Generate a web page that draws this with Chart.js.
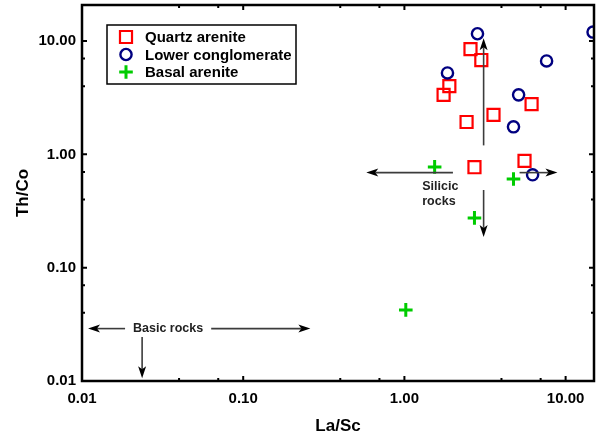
<!DOCTYPE html>
<html>
<head>
<meta charset="utf-8">
<script src="https://cdn.jsdelivr.net/npm/chart.js@4.4.1/dist/chart.umd.min.js"></script>
<style>
  body { margin: 0; background: #fff; }
  canvas { display: block; }
</style>
</head>
<body>
<canvas id="chart" width="602" height="438"></canvas>
<script>
// La/Sc against Th/Co, both on log axes
const quartzLaSc = [2.57, 3.0, 1.9, 1.75, 2.43, 3.57, 6.15, 2.72, 5.56];
const quartzThCo = [8.5, 6.8, 4.0, 3.35, 1.93, 2.23, 2.78, 0.77, 0.875];

const conglLaSc = [2.84, 1.85, 7.62, 5.11, 4.75, 6.24, 14.8];
const conglThCo = [11.6, 5.23, 6.67, 3.35, 1.75, 0.66, 12.0];

const basalLaSc = [1.54, 4.75, 2.72, 1.02];
const basalThCo = [0.775, 0.607, 0.275, 0.0424];

const majorTicks = [0.01, 0.1, 1, 10];
const minorTicks = [0.04, 0.07, 0.4, 0.7, 4, 7];

// field arrows: [fromX, fromY, toX, toY]
const arrows = [
  [2.0, 0.69, 0.58, 0.69],
  [5.18, 0.69, 8.9, 0.69],
  [3.1, 1.2, 3.1, 10.6],
  [3.1, 0.485, 3.1, 0.187],
  [0.0185, 0.029, 0.0109, 0.029],
  [0.0633, 0.029, 0.261, 0.029],
  [0.0236, 0.0244, 0.0236, 0.0106]
];
const fieldLabels = [
  { text: 'Silicic', x: 1.29, y: 0.515, align: 'left' },
  { text: 'rocks', x: 1.29, y: 0.38, align: 'left' },
  { text: 'Basic rocks', x: 0.0342, y: 0.029, align: 'center' }
];

const FONT = '"Liberation Sans", Arial, Helvetica, sans-serif';

function pairs(xs, ys) {
  return xs.map((v, i) => ({ x: v, y: ys[i] }));
}

function drawMarker(ctx, style, color, width, r, x, y) {
  ctx.save();
  ctx.strokeStyle = color;
  ctx.lineWidth = width;
  ctx.beginPath();
  if (style === 'rect') {
    const s = r * Math.SQRT1_2;
    ctx.rect(x - s, y - s, 2 * s, 2 * s);
  } else if (style === 'circle') {
    ctx.arc(x, y, r, 0, Math.PI * 2);
  } else {
    ctx.moveTo(x - r, y); ctx.lineTo(x + r, y);
    ctx.moveTo(x, y - r); ctx.lineTo(x, y + r);
  }
  ctx.stroke();
  ctx.restore();
}

function arrowHead(ctx, x1, y1, x2, y2) {
  const ang = Math.atan2(y2 - y1, x2 - x1);
  ctx.save();
  ctx.translate(x2, y2);
  ctx.rotate(ang);
  ctx.beginPath();
  ctx.moveTo(0, 0);
  ctx.lineTo(-12, -4);
  ctx.lineTo(-9, 0);
  ctx.lineTo(-12, 4);
  ctx.closePath();
  ctx.fill();
  ctx.restore();
}

const annotations = {
  id: 'annotations',
  afterDatasetsDraw(chart) {
    const { ctx, scales: { x, y } } = chart;
    ctx.save();
    ctx.strokeStyle = '#3c3c3c';
    ctx.fillStyle = '#000';
    ctx.lineWidth = 1.6;
    arrows.forEach(a => {
      const x1 = x.getPixelForValue(a[0]), y1 = y.getPixelForValue(a[1]);
      const x2 = x.getPixelForValue(a[2]), y2 = y.getPixelForValue(a[3]);
      const ang = Math.atan2(y2 - y1, x2 - x1);
      ctx.beginPath();
      ctx.moveTo(x1, y1);
      ctx.lineTo(x2 - 9 * Math.cos(ang), y2 - 9 * Math.sin(ang));
      ctx.stroke();
      arrowHead(ctx, x1, y1, x2, y2);
    });
    ctx.fillStyle = '#222';
    ctx.font = 'bold 12.5px ' + FONT;
    ctx.textBaseline = 'middle';
    fieldLabels.forEach(l => {
      ctx.textAlign = l.align;
      ctx.fillText(l.text, x.getPixelForValue(l.x), y.getPixelForValue(l.y));
    });
    ctx.restore();
  }
};

const frame = {
  id: 'frame',
  afterDatasetsDraw(chart) {
    const { ctx, chartArea: a, scales: { x, y } } = chart;
    ctx.save();
    ctx.strokeStyle = '#000';
    ctx.lineWidth = 2;
    const tick = (vx, vy, len) => {
      ctx.beginPath();
      if (vx !== null) {
        const px = x.getPixelForValue(vx);
        ctx.moveTo(px, a.bottom); ctx.lineTo(px, a.bottom - len);
        ctx.moveTo(px, a.top); ctx.lineTo(px, a.top + len);
      } else {
        const py = y.getPixelForValue(vy);
        ctx.moveTo(a.left, py); ctx.lineTo(a.left + len, py);
        ctx.moveTo(a.right, py); ctx.lineTo(a.right - len, py);
      }
      ctx.stroke();
    };
    majorTicks.forEach(v => { tick(v, null, 5); tick(null, v, 5); });
    minorTicks.forEach(v => { tick(v, null, 3); tick(null, v, 3); });
    ctx.lineWidth = 2.5;
    ctx.strokeRect(a.left, a.top, a.right - a.left, a.bottom - a.top);

    // legend box
    const lx = a.left + 25, ly = a.top + 20;
    ctx.fillStyle = '#fff';
    ctx.fillRect(lx, ly, 189, 59);
    ctx.lineWidth = 1.5;
    ctx.strokeRect(lx, ly, 189, 59);
    ctx.font = 'bold 15px ' + FONT;
    ctx.fillStyle = '#000';
    ctx.textBaseline = 'middle';
    ctx.textAlign = 'left';
    chart.data.datasets.forEach((ds, i) => {
      const ry = ly + 12 + i * 17.5;
      drawMarker(ctx, ds.pointStyle, ds.borderColor, ds.borderWidth, ds.pointRadius, lx + 19, ry);
      ctx.fillText(ds.label, lx + 38, ry + 1);
    });
    ctx.restore();
  }
};

new Chart(document.getElementById('chart'), {
  type: 'scatter',
  data: {
    datasets: [
      {
        label: 'Quartz arenite',
        data: pairs(quartzLaSc, quartzThCo),
        pointStyle: 'rect',
        pointRadius: 8.5,
        borderWidth: 2.2,
        borderColor: '#ff0000',
        backgroundColor: 'rgba(0,0,0,0)',
        clip: 0,
        order: 3
      },
      {
        label: 'Lower conglomerate',
        data: pairs(conglLaSc, conglThCo),
        pointStyle: 'circle',
        pointRadius: 5.6,
        borderWidth: 2.4,
        borderColor: '#000080',
        backgroundColor: 'rgba(0,0,0,0)',
        clip: 0,
        order: 2
      },
      {
        label: 'Basal arenite',
        data: pairs(basalLaSc, basalThCo),
        pointStyle: 'cross',
        pointRadius: 6.8,
        borderWidth: 3,
        borderColor: '#00cc00',
        backgroundColor: 'rgba(0,0,0,0)',
        clip: 0,
        order: 1
      }
    ]
  },
  options: {
    responsive: false,
    animation: false,
    events: [],
    layout: { autoPadding: false, padding: { top: 5, right: 8, left: 0, bottom: 0 } },
    plugins: { legend: { display: false }, tooltip: { enabled: false } },
    scales: {
      x: {
        type: 'logarithmic',
        min: 0.01,
        max: 15,
        grid: { display: false, drawTicks: false },
        border: { display: false },
        afterBuildTicks: s => { s.ticks = majorTicks.map(v => ({ value: v })); },
        afterFit: s => { s.height = 57; s.paddingLeft = 0; s.paddingRight = 0; },
        ticks: {
          autoSkip: false,
          maxRotation: 0,
          padding: 9,
          color: '#000',
          font: { family: FONT, size: 15, weight: 'bold' },
          callback: v => Number(v).toFixed(2)
        },
        title: {
          display: true,
          text: 'La/Sc',
          color: '#000',
          padding: 1,
          font: { family: FONT, size: 17, weight: 'bold' }
        }
      },
      y: {
        type: 'logarithmic',
        min: 0.01,
        max: 20.8,
        grid: { display: false, drawTicks: false },
        border: { display: false },
        afterBuildTicks: s => { s.ticks = majorTicks.map(v => ({ value: v })); },
        afterFit: s => { s.width = 82; s.paddingTop = 0; s.paddingBottom = 0; },
        ticks: {
          autoSkip: false,
          padding: 6,
          color: '#000',
          font: { family: FONT, size: 15, weight: 'bold' },
          callback: v => Number(v).toFixed(2)
        },
        title: {
          display: true,
          text: 'Th/Co',
          color: '#000',
          padding: 13,
          font: { family: FONT, size: 17, weight: 'bold' }
        }
      }
    }
  },
  plugins: [annotations, frame]
});
</script>
</body>
</html>
